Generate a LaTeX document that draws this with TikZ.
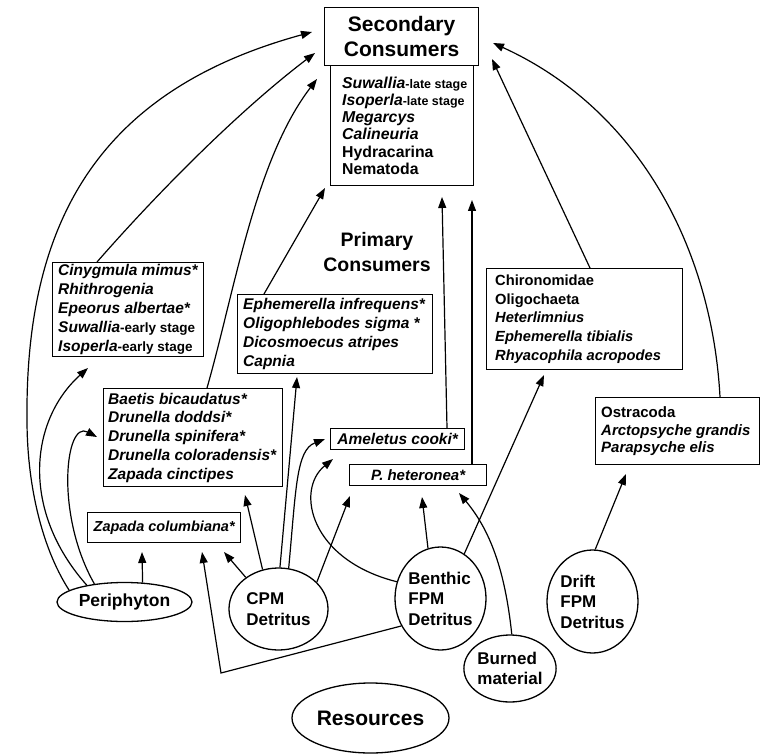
\documentclass[tikz,border=0pt]{standalone}
\usepackage{fontspec}
\setmainfont{Liberation Sans}
\usetikzlibrary{arrows.meta,shapes.geometric,calc}
\newcommand{\myfs}[2]{\fontsize{#1}{#2}\selectfont}
\tikzset{
  box/.style={draw, line width=1.3pt, anchor=north west, inner sep=0pt},
  txt/.style={anchor=west, align=left, inner sep=0pt},
  res/.style={draw, ellipse, line width=1.3pt, inner sep=0pt, align=left, font=\bfseries\myfs{17}{20.5}},
  arr/.style={line width=1.2pt, -{Triangle[length=11pt,width=8pt]}},
}
\begin{document}
\begin{tikzpicture}[x=1pt,y=-1pt]
\useasboundingbox (0,0) rectangle (760,754);
% boxes
\node[box, minimum width=154pt, minimum height=58pt, align=center, font=\bfseries\myfs{21}{25}] (sec) at (324,7) {Secondary\\Consumers};
\node[box, minimum width=143pt, minimum height=120pt] (seclist) at (330,65) {};
\node[txt, font=\bfseries\myfs{15.8}{17.3}] (seclistT) at ($(seclist.west)+(12,0)$) {\textit{Suwallia}{\myfs{12.5}{17.3}-late stage}\\\textit{Isoperla}{\myfs{12.5}{17.3}-late stage}\\\textit{Megarcys}\\\textit{Calineuria}\\Hydracarina\\Nematoda};

\node[align=center, font=\bfseries\myfs{19.5}{25}] (prim) at (377,252) {Primary\\Consumers};

\node[box, minimum width=151pt, minimum height=94pt] (cin) at (52,262) {};
\node[txt, font=\bfseries\myfs{15.5}{19}] (cinT) at ($(cin.west)+(6,0)$) {\textit{Cinygmula mimus*}\\\textit{Rhithrogenia}\\\textit{Epeorus albertae*}\\\textit{Suwallia}{\myfs{13.5}{19}-early stage}\\\textit{Isoperla}{\myfs{13.5}{19}-early stage}};

\node[box, minimum width=195pt, minimum height=79pt] (eph) at (237,294) {};
\node[txt, font=\bfseries\itshape\myfs{15.5}{19}] (ephT) at ($(eph.west)+(6,0)$) {Ephemerella infrequens*\\Oligophlebodes sigma *\\Dicosmoecus atripes\\Capnia};

\node[box, minimum width=196pt, minimum height=101pt] (chi) at (486,268) {};
\node[txt, font=\bfseries\myfs{14.7}{18.8}] (chiT) at ($(chi.west)+(9,0)$) {Chironomidae\\Oligochaeta\\\textit{Heterlimnius}\\\textit{Ephemerella tibialis}\\\textit{Rhyacophila acropodes}};

\node[box, minimum width=164pt, minimum height=67pt] (ost) at (595,397) {};
\node[txt, font=\bfseries\myfs{15}{17.5}] (ostT) at ($(ost.west)+(6,0)$) {Ostracoda\\\textit{Arctopsyche grandis}\\\textit{Parapsyche elis}};

\node[box, minimum width=179pt, minimum height=98pt] (baetis) at (103,388) {};
\node[txt, font=\bfseries\itshape\myfs{15.5}{18.75}] (baetisT) at ($(baetis.west)+(5,0)$) {Baetis bicaudatus*\\Drunella doddsi*\\Drunella spinifera*\\Drunella coloradensis*\\Zapada cinctipes};

\node[box, minimum width=153pt, minimum height=30pt, font=\bfseries\itshape\myfs{14.5}{17}] (zapcol) at (87,512) {Zapada columbiana*};
\node[box, minimum width=134pt, minimum height=21pt, font=\bfseries\itshape\myfs{15.5}{18}] (amel) at (330,428) {Ameletus cooki*};
\node[box, minimum width=137pt, minimum height=21pt, font=\bfseries\itshape\myfs{15}{18}] (phet) at (349,464) {P. heteronea*};

% resources
\node[res, minimum width=135pt, minimum height=39pt, font=\bfseries\myfs{17.5}{20}] (peri) at (124.5,602) {Periphyton};
\node[res, minimum width=99pt, minimum height=82pt] (cpm) at (278.5,609) {CPM\\Detritus};
\node[res, minimum width=91pt, minimum height=103pt] (ben) at (440.5,598.5) {Benthic\\FPM\\Detritus};
\node[res, minimum width=92pt, minimum height=67pt] (burn) at (510,668.5) {Burned\\material};
\node[res, minimum width=91pt, minimum height=103pt] (drift) at (592.5,601.5) {Drift\\FPM\\Detritus};
\node[res, minimum width=157pt, minimum height=70pt, font=\bfseries\myfs{21}{25}] (resrc) at (370.5,718) {Resources};

% arrow tips
\coordinate (t1) at (312,32);
\coordinate (t2) at (315,53);
\coordinate (t3) at (317,79);
\coordinate (t4) at (325,188);
\coordinate (t5) at (493,43);
\coordinate (t6) at (492,59);
\coordinate (t7) at (442,197);
\coordinate (t8) at (472,200);
\coordinate (t9) at (88,368);
\coordinate (t10) at (97,437);
\coordinate (t11) at (142,552);
\coordinate (t12) at (224,552);
\coordinate (t13) at (245,495);
\coordinate (t14) at (297,377);
\coordinate (t15) at (325,439);
\coordinate (t16) at (350,496);
\coordinate (t17) at (333,459);
\coordinate (t18) at (422,497);
\coordinate (t19) at (459,493);
\coordinate (t20) at (544,375);
\coordinate (c21) at (221,673);
\coordinate (t21) at (202,552);
\coordinate (t22) at (626,474);

% connectors
\draw[arr] (peri.168) .. controls (40,545) and (27,480) .. (27,420) .. controls (25,220) and (100,90) .. (t1);
\draw[arr] ($(cin.north west)+(45,0)$) .. controls (160,190) and (240,110) .. (t2);
\draw[arr] ($(baetis.north west)+(104,0)$) .. controls (235,290) and (255,160) .. (t3);
\draw[arr] ($(eph.north west)+(27,0)$) -- (t4);
\draw[arr] ($(ost.north west)+(125,0)$) .. controls (712,250) and (640,110) .. (t5);
\draw[arr] ($(chi.north west)+(104,0)$) -- (t6);
\draw[arr] ($(amel.north west)+(117,0)$) -- (t7);
\draw[arr] ($(phet.north west)+(123,0)$) -- (t8);
\draw[arr] (peri.156) .. controls (20,510) and (30,420) .. (t9);
\draw[arr] (peri.149) .. controls (55,515) and (65,420) .. (t10);
\draw[arr] (peri.47) -- (t11);
\draw[arr] (cpm.136) -- (t12);
\draw[arr] (cpm.112) -- (t13);
\draw[arr] (cpm.88) -- (t14);
\draw[arr] (cpm.76) .. controls (296,490) and (296,450) .. (t15);
\draw[arr] (cpm.35) -- (t16);
\draw[arr] (ben.159) .. controls (310,560) and (295,490) .. (t17);
\draw[arr] (ben.104) -- (t18);
\draw[arr] (burn.87) .. controls (505,570) and (490,530) .. (t19);
\draw[arr] (ben.62) -- (t20);
\draw[arr] (ben.215) -- (c21) -- (t21);
\draw[arr] (drift.87) -- (t22);
\end{tikzpicture}
\end{document}
